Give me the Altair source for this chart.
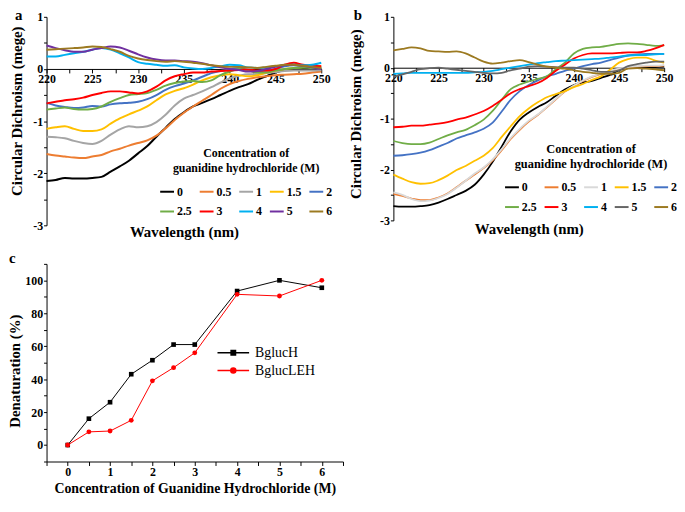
import altair as alt
import pandas as pd

SERIF = "Liberation Serif"

# ---------------- data ----------------
wavelength = list(range(220, 251))
conc = ["0", "0.5", "1", "1.5", "2", "2.5", "3", "4", "5", "6"]

# panel a (BglucH)
a_0 = [-2.15, -2.13, -2.09, -2.10, -2.10, -2.09, -2.07, -1.97, -1.87, -1.76, -1.62, -1.48, -1.30, -1.13, -0.96, -0.83,
       -0.72, -0.65, -0.58, -0.50, -0.42, -0.35, -0.29, -0.21, -0.14, -0.07, -0.02, 0.00, 0.01, 0.02, 0.00]
a_05 = [-1.63, -1.66, -1.68, -1.70, -1.71, -1.68, -1.65, -1.58, -1.53, -1.47, -1.42, -1.37, -1.28, -1.14, -0.98, -0.84,
        -0.72, -0.61, -0.50, -0.38, -0.29, -0.23, -0.19, -0.16, -0.14, -0.12, -0.11, -0.10, -0.09, -0.07, -0.05]
a_1 = [-1.30, -1.31, -1.33, -1.38, -1.42, -1.44, -1.38, -1.26, -1.16, -1.10, -1.12, -1.10, -1.02, -0.88, -0.70, -0.57,
       -0.50, -0.43, -0.35, -0.26, -0.18, -0.13, -0.10, -0.10, -0.08, -0.06, -0.04, -0.03, -0.03, -0.03, -0.02]
a_15 = [-1.15, -1.12, -1.10, -1.15, -1.19, -1.19, -1.16, -1.05, -0.95, -0.87, -0.80, -0.72, -0.60, -0.49, -0.42, -0.37,
        -0.30, -0.22, -0.16, -0.12, -0.10, -0.12, -0.14, -0.12, -0.07, -0.03, 0.00, 0.02, 0.03, 0.04, 0.05]
a_2 = [-0.65, -0.70, -0.73, -0.75, -0.74, -0.71, -0.72, -0.68, -0.66, -0.65, -0.63, -0.58, -0.50, -0.40, -0.33, -0.28,
       -0.22, -0.15, -0.08, -0.04, -0.01, 0.02, -0.02, -0.05, -0.03, 0.00, 0.05, 0.07, 0.05, 0.04, 0.03]
a_25 = [-0.78, -0.76, -0.74, -0.77, -0.78, -0.77, -0.72, -0.63, -0.56, -0.50, -0.48, -0.46, -0.40, -0.32, -0.27, -0.24,
        -0.23, -0.25, -0.22, -0.12, -0.05, 0.00, -0.02, -0.07, -0.07, -0.03, 0.00, 0.02, 0.03, 0.02, 0.02]
a_3 = [-0.66, -0.63, -0.60, -0.58, -0.55, -0.50, -0.46, -0.43, -0.43, -0.45, -0.47, -0.43, -0.34, -0.22, -0.14, -0.10,
       -0.07, -0.07, -0.05, -0.04, -0.03, -0.02, -0.01, -0.03, -0.03, 0.00, 0.08, 0.12, 0.08, 0.06, 0.05]
a_4 = [0.24, 0.24, 0.27, 0.30, 0.33, 0.37, 0.40, 0.37, 0.30, 0.22, 0.13, 0.10, 0.08, 0.06, 0.07, 0.03,
       0.01, 0.00, 0.02, 0.05, 0.08, 0.07, 0.03, 0.02, 0.03, 0.05, 0.07, 0.08, 0.07, 0.08, 0.12]
a_5 = [0.45, 0.40, 0.36, 0.33, 0.33, 0.37, 0.40, 0.43, 0.41, 0.35, 0.28, 0.22, 0.18, 0.16, 0.16, 0.15,
       0.14, 0.11, 0.07, 0.03, 0.00, -0.02, -0.05, -0.04, 0.00, 0.04, 0.07, 0.08, 0.06, 0.03, 0.00]
a_6 = [0.37, 0.38, 0.39, 0.40, 0.41, 0.43, 0.42, 0.38, 0.33, 0.25, 0.20, 0.17, 0.15, 0.14, 0.15, 0.14,
       0.12, 0.10, 0.07, 0.05, 0.04, 0.04, 0.03, 0.02, 0.04, 0.06, 0.08, 0.08, 0.06, 0.04, 0.02]

# panel b (BglucLEH)
b_0 = [-2.72, -2.73, -2.73, -2.72, -2.70, -2.65, -2.58, -2.50, -2.42, -2.30, -2.10, -1.85, -1.55, -1.25, -1.02, -0.88,
       -0.77, -0.68, -0.55, -0.43, -0.34, -0.29, -0.26, -0.20, -0.14, -0.05, -0.01, 0.00, 0.00, 0.01, 0.02]
b_05 = [-2.48, -2.52, -2.57, -2.60, -2.60, -2.55, -2.47, -2.35, -2.22, -2.10, -1.97, -1.82, -1.62, -1.40, -1.22, -1.06,
        -0.93, -0.78, -0.62, -0.47, -0.36, -0.26, -0.18, -0.12, -0.07, -0.03, 0.00, 0.02, 0.03, 0.03, 0.04]
b_1 = [-2.45, -2.50, -2.58, -2.62, -2.61, -2.56, -2.48, -2.36, -2.22, -2.08, -1.96, -1.80, -1.60, -1.38, -1.20, -1.04,
       -0.92, -0.77, -0.61, -0.46, -0.35, -0.25, -0.17, -0.11, -0.06, -0.02, 0.01, 0.03, 0.04, 0.04, 0.05]
b_15 = [-2.10, -2.18, -2.25, -2.28, -2.27, -2.21, -2.12, -2.01, -1.93, -1.83, -1.73, -1.58, -1.36, -1.15, -0.95, -0.80,
        -0.68, -0.58, -0.52, -0.46, -0.38, -0.32, -0.24, -0.17, -0.04, 0.10, 0.17, 0.20, 0.20, 0.14, 0.10]
b_2 = [-1.73, -1.72, -1.70, -1.67, -1.62, -1.55, -1.48, -1.39, -1.33, -1.27, -1.20, -1.08, -0.86, -0.63, -0.46, -0.34,
       -0.25, -0.17, -0.12, -0.06, -0.02, 0.03, 0.07, 0.10, 0.15, 0.20, 0.24, 0.26, 0.27, 0.27, 0.27]
b_25 = [-1.44, -1.48, -1.50, -1.50, -1.47, -1.40, -1.33, -1.27, -1.22, -1.13, -1.02, -0.85, -0.63, -0.42, -0.33, -0.27,
        -0.22, -0.17, -0.03, 0.10, 0.28, 0.37, 0.40, 0.41, 0.44, 0.47, 0.48, 0.47, 0.45, 0.43, 0.44]
b_3 = [-1.17, -1.16, -1.14, -1.14, -1.12, -1.10, -1.07, -1.02, -0.98, -0.92, -0.85, -0.75, -0.63, -0.50, -0.42, -0.36,
       -0.30, -0.20, -0.06, 0.06, 0.18, 0.25, 0.28, 0.28, 0.28, 0.29, 0.30, 0.30, 0.33, 0.38, 0.45]
b_4 = [-0.12, -0.11, -0.10, -0.10, -0.10, -0.10, -0.10, -0.10, -0.10, -0.09, -0.08, -0.06, -0.03, 0.00, 0.03, 0.06,
       0.09, 0.11, 0.13, 0.14, 0.15, 0.16, 0.17, 0.18, 0.20, 0.22, 0.24, 0.25, 0.25, 0.26, 0.27]
b_5 = [-0.18, -0.13, -0.08, -0.03, -0.01, 0.00, -0.02, -0.04, -0.06, -0.08, -0.10, -0.11, -0.10, -0.05, -0.02, 0.02,
       0.03, 0.02, 0.01, 0.00, 0.00, -0.02, -0.05, -0.08, -0.08, -0.05, 0.03, 0.07, 0.10, 0.12, 0.12]
b_6 = [0.34, 0.37, 0.40, 0.38, 0.33, 0.32, 0.31, 0.32, 0.28, 0.20, 0.12, 0.08, 0.10, 0.13, 0.15, 0.11,
       0.06, 0.02, 0.00, -0.02, -0.05, -0.08, -0.10, -0.12, -0.12, -0.10, -0.02, -0.01, -0.02, -0.03, -0.05]

colors_a = ["#000000", "#ED7D31", "#A5A5A5", "#FFC000", "#4472C4", "#70AD47", "#FF0000", "#00B0F0", "#7030A0", "#9C7A21"]
colors_b = ["#000000", "#ED7D31", "#D9D9D9", "#FFC000", "#4472C4", "#70AD47", "#FF0000", "#00B0F0", "#666666", "#9C7A21"]

# panel c
c_conc = [0, 0.5, 1, 1.5, 2, 2.5, 3, 4, 5, 6]
c_bgluch = [0, 16, 26, 43, 51.5, 61, 61, 93.5, 100, 95.5]
c_bglucleh = [0, 8, 8.5, 15, 39, 47, 56, 91.5, 90.5, 100]
c_series = ["BglucH", "BglucLEH"]
c_colors = ["#000000", "#FF0000"]

a_series = [a_0, a_05, a_1, a_15, a_2, a_25, a_3, a_4, a_5, a_6]
b_series = [b_0, b_05, b_1, b_15, b_2, b_25, b_3, b_4, b_5, b_6]


def cd_frame(series):
    rows = []
    for k, (c, vals) in enumerate(zip(conc, series)):
        for w, v in zip(wavelength, vals):
            rows.append({"wl": w, "cd": v, "conc": c, "k": k})
    return pd.DataFrame(rows)


def cd_panel(series, colors, letter, w, h, toff, tdx, lx, ly, ytitle_y, ytpad, sw, xtitle_dy, ltfs):
    df = cd_frame(series)
    below = h * 3 / 4
    x = alt.X("wl:Q", scale=alt.Scale(domain=[220, 250], nice=False, zero=False),
              axis=alt.Axis(values=[220 + 2.5 * i for i in range(13)],
                            labelExpr="datum.value % 5 == 0 ? '' + datum.value : ''",
                            offset=-below, title="Wavelength (nm)", titleY=below + xtitle_dy,
                            titleBaseline="alphabetic", grid=False, tickSize=4, labelPadding=1,
                            labelFlush=False, labelOverlap=False, titleFontSize=15))
    y = alt.Y("cd:Q", scale=alt.Scale(domain=[-3, 1], nice=False, zero=False),
              axis=alt.Axis(values=[-3 + 0.5 * i for i in range(9)],
                            labelExpr="datum.value % 1 == 0 ? '' + datum.value : ''",
                            title="Circular Dichroism (mege)", titleY=ytitle_y, grid=False,
                            tickSize=3, labelPadding=1, titlePadding=ytpad, labelOverlap=False,
                            titleFontSize=15))
    color = alt.Color("conc:N", scale=alt.Scale(domain=conc, range=colors),
                      legend=alt.Legend(title=["Concentration of", "guanidine hydrochloride  (M)"],
                                        orient="none", legendX=lx, legendY=ly, columns=5,
                                        direction="horizontal",
                                        symbolType="stroke", symbolStrokeWidth=2, symbolSize=196,
                                        columnPadding=4, rowPadding=6, labelOffset=2,
                                        titleAnchor="middle", titleAlign="center",
                                        titleFontSize=ltfs, titlePadding=9, titleLineHeight=15))
    return alt.Chart(df).mark_line(strokeWidth=sw, interpolate="monotone").encode(
        x=x, y=y, color=color, detail="conc:N"
    ).properties(width=w, height=h,
                 title=alt.TitleParams(letter, anchor="start", frame="group", offset=toff, dx=tdx))


pa = cd_panel(a_series, colors_a, "a", 278, 211, -12, -32, 114, 133, 95, 8, 2, 11, 12)
pb = cd_panel(b_series, colors_b, "b", 274, 206, -12, -40, 112, 128, 98, 16, 1.8, 13, 12.5)

# ---- panel c ----
rows_c = []
for s, vals in zip(c_series, [c_bgluch, c_bglucleh]):
    for xv, yv in zip(c_conc, vals):
        rows_c.append({"conc": xv, "den": yv, "series": s})
dfc = pd.DataFrame(rows_c)

cx = alt.X("conc:Q", scale=alt.Scale(domain=[-0.5, 6.5], nice=False, zero=False),
           axis=alt.Axis(values=[-0.5 + 0.5 * i for i in range(15)],
                         labelExpr="datum.value % 1 == 0 ? '' + datum.value : ''",
                         title="Concentration of Guanidine Hydrochloride (M)", grid=False,
                         tickSize=4, labelOverlap=False, labelFlush=False, titleFontSize=14,
                         labelPadding=1, titlePadding=4))
cy = alt.Y("den:Q", scale=alt.Scale(domain=[-10, 110], nice=False, zero=False),
           axis=alt.Axis(values=list(range(-10, 111, 10)),
                         labelExpr="(datum.value >= 0 && datum.value % 20 == 0) ? '' + datum.value : ''",
                         title="Denaturation (%)", grid=False, tickSize=3, labelPadding=1,
                         labelOverlap=False, titleFontSize=15, titlePadding=2, titleY=108))
cscale = alt.Scale(domain=c_series, range=c_colors)

# legend glyphs: a line with the series marker in its middle
sq_path = "M-2,0H2M-0.28,-0.28H0.28V0.28H-0.28Z"
ci_path = "M-2,0H2M0.32,0A0.32,0.32,0,1,1,-0.32,0A0.32,0.32,0,1,1,0.32,0Z"

leg_props = dict(title=None, orient="none", legendX=180, legendY=81, symbolSize=256,
                 symbolStrokeWidth=1.5, symbolOpacity=1, labelFont=SERIF, labelFontWeight="normal",
                 labelFontSize=14, labelOffset=13, rowPadding=2)
# legend carrier layer comes first so that its legend settings win when merged
c_leg = alt.Chart(dfc).mark_point(filled=False, opacity=0).encode(
    x=cx, y=cy,
    color=alt.Color("series:N", scale=cscale, legend=alt.Legend(**leg_props)),
    fill=alt.Fill("series:N", scale=alt.Scale(domain=c_series, range=c_colors), legend=alt.Legend(**leg_props)),
    shape=alt.Shape("series:N", scale=alt.Scale(domain=c_series, range=[sq_path, ci_path]),
                    legend=alt.Legend(**leg_props)),
)
c_line = alt.Chart(dfc).mark_line(strokeWidth=1).encode(
    x=cx, y=cy, color=alt.Color("series:N", scale=cscale))
c_sq = alt.Chart(dfc).transform_filter("datum.series == 'BglucH'").mark_square(size=22, opacity=1).encode(
    x=cx, y=cy, color=alt.Color("series:N", scale=cscale))
c_ci = alt.Chart(dfc).transform_filter("datum.series == 'BglucLEH'").mark_circle(size=24, opacity=1).encode(
    x=cx, y=cy, color=alt.Color("series:N", scale=cscale))
pc = alt.layer(c_leg, c_line, c_sq, c_ci).properties(
    width=300, height=200,
    title=alt.TitleParams("c", anchor="start", frame="group", offset=-8, dx=-38))

chart = alt.concat(pa, pb, pc, columns=2, align="none", spacing={"row": 12, "column": 5}).resolve_scale(
    color="independent", fill="independent", shape="independent").resolve_legend(
    color="independent", fill="independent", shape="independent").properties(
    padding={"top": -3, "left": 0, "right": 0, "bottom": 0}).configure_view(stroke=None).configure_axis(
    labelFont=SERIF, titleFont=SERIF, labelFontWeight="bold", titleFontWeight="bold",
    labelFontSize=12, labelColor="black", titleColor="black", domainColor="black", tickColor="black",
    domainWidth=1, tickWidth=1).configure_legend(
    labelFont=SERIF, titleFont=SERIF, labelFontWeight="bold", titleFontWeight="bold",
    labelFontSize=12, titleFontSize=12, labelColor="black", titleColor="black").configure_title(
    font=SERIF, fontWeight="bold", fontSize=15, color="black")

chart.save("out.html", embed_options={"renderer": "svg", "actions": False})
